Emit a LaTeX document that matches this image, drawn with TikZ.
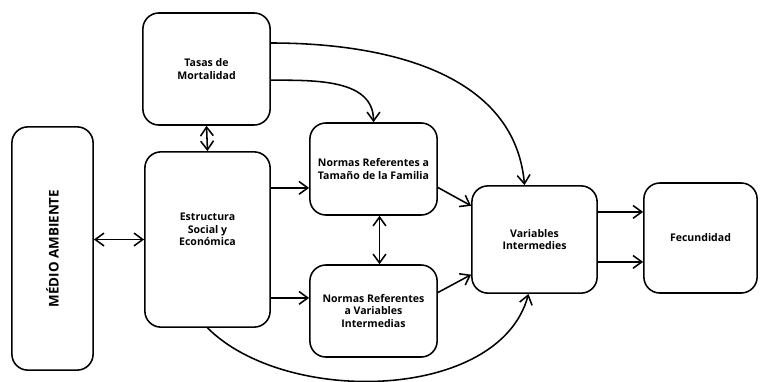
\documentclass[tikz,border=0pt]{standalone}
\usepackage{fontspec}
\setmainfont{Open Sans}
\usetikzlibrary{arrows.meta}
\begin{document}
\begin{tikzpicture}[x=0.025cm, y=-0.025cm, line width=1.1pt,
    >={Straight Barb[length=2.2mm, width=3.2mm]},
    box/.style={draw, rounded corners=0.4cm, align=center, inner sep=2pt,
      font=\fontsize{7.5}{9}\selectfont\bfseries}]
  \useasboundingbox (0,0) rectangle (761,381);

  \node[box, minimum width=2.03cm, minimum height=6.08cm] (medio) at (52.5,248.5) {\rotatebox{90}{\fontsize{9.5}{11}\selectfont MÉDIO AMBIENTE}};
  \node[box, minimum width=3.18cm, minimum height=2.8cm] (tasas) at (206.5,69) {Tasas de\\Mortalidad};
  \node[box, minimum width=3.13cm, minimum height=4.38cm, text depth=0.5cm] (estructura) at (207.5,239.5) {Estructura\\Social y\\Económica};
  \node[box, minimum width=3.18cm, minimum height=2.3cm] (normasT) at (373.5,169) {Normas Referentes a\\Tamaño de la Familia};
  \node[box, minimum width=3.18cm, minimum height=2.3cm] (normasV) at (373.5,311) {Normas Referentes\\a Variables\\Intermedias};
  \node[box, minimum width=3.13cm, minimum height=2.68cm] (variables) at (534.5,239.5) {Variables\\Intermedies};
  \node[box, minimum width=2.83cm, minimum height=2.75cm] (fecundidad) at (700.5,238) {Fecundidad};

  \coordinate (eT) at ([yshift=1.29cm]estructura.east);
  \coordinate (eV) at ([yshift=-1.46cm]estructura.east);
  \coordinate (vF1) at ([yshift=0.69cm]variables.east);
  \coordinate (vF2) at ([yshift=-0.56cm]variables.east);
  \coordinate (tA) at ([yshift=0.65cm]tasas.east);
  \coordinate (tB) at ([yshift=-0.28cm]tasas.east);

  \draw[<->] (medio.east |- estructura.west) -- (estructura.west);
  \draw[<->] (tasas.south) -- (estructura.north);
  \draw[<->] ([xshift=0.15cm]normasT.south) -- ([xshift=0.15cm]normasV.north);
  \draw[->] (eT) -- (eT -| normasT.west);
  \draw[->] (eV) -- (eV -| normasV.west);
  \draw[->] (normasT.-16) -- (variables.152);
  \draw[->] (normasV.16) -- (variables.209);
  \draw[->] (vF1) -- (vF1 -| fecundidad.west);
  \draw[->] (vF2) -- (vF2 -| fecundidad.west);
  \draw[->] (tA) to[out=0, in=95] ([xshift=-0.25cm]variables.north);
  \draw[->] (tB) to[out=0, in=90] (normasT.north);
  \draw[->] (estructura.south) to[out=-45, in=-105, looseness=0.88] ([xshift=-0.15cm]variables.south);
\end{tikzpicture}
\end{document}
